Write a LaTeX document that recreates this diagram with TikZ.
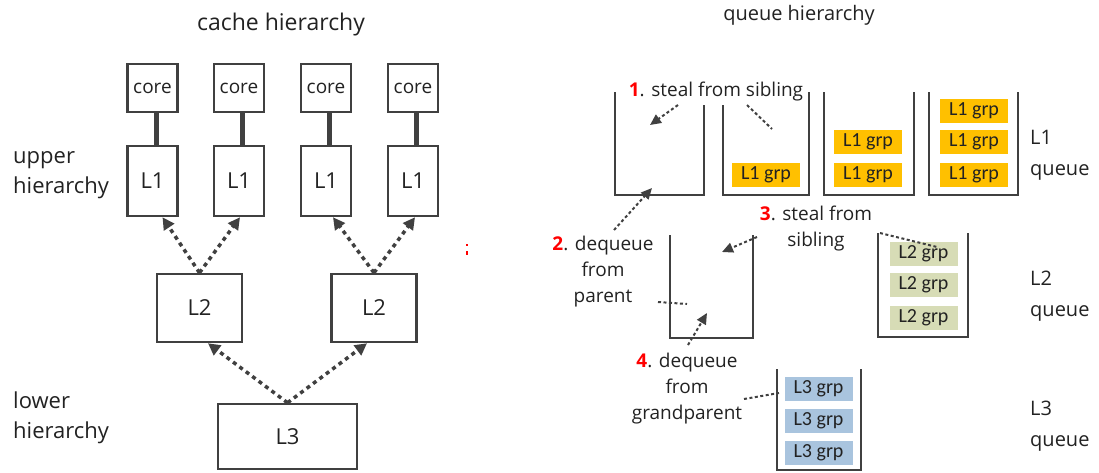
\documentclass[tikz,border=0pt]{standalone}
\usepackage{fontspec}
\setmainfont{Open Sans}
\newfontfamily\grpfont{Carlito}
\usetikzlibrary{arrows.meta}
\definecolor{ln}{HTML}{404040}
\definecolor{tx}{HTML}{222222}
\definecolor{orng}{HTML}{FFC000}
\definecolor{grn}{HTML}{D7DCB6}
\definecolor{blu}{HTML}{A9C4DE}
\definecolor{rd}{HTML}{FF0000}
\newcommand{\stepnum}[1]{{\color{rd}\bfseries #1}}
\begin{document}
\begin{tikzpicture}[x=1pt,y=-1pt,
  every node/.style={text=tx, inner sep=0pt},
  box/.style={draw=ln, line width=2.5pt, font=\fontsize{22}{26}\selectfont},
  corebox/.style={box, minimum width=50pt, minimum height=48pt, font=\fontsize{19}{24}\selectfont},
  lonebox/.style={box, minimum width=50pt, minimum height=70pt},
  ltwobox/.style={box, minimum width=85pt, minimum height=68pt},
  lthreebox/.style={box, minimum width=139pt, minimum height=65pt},
  bus/.style={draw=ln, line width=5pt},
  carrow/.style={draw=ln, line width=3.5pt, dash pattern=on 4pt off 4pt, -{Triangle[length=12pt,width=12pt]}},
  wall/.style={draw=ln, line width=2.5pt},
  grp/.style={minimum width=68pt, minimum height=24pt, font=\grpfont\fontsize{20}{24}\selectfont},
  lonegrp/.style={grp, fill=orng},
  ltwogrp/.style={grp, fill=grn},
  lthreegrp/.style={grp, fill=blu},
  rarrow/.style={draw=ln, line width=2pt, dash pattern=on 3pt off 2.5pt, -{Triangle[length=11pt,width=10pt]}},
  rline/.style={draw=ln, line width=2pt, dash pattern=on 3pt off 2.5pt},
  lbl/.style={font=\fontsize{19}{26}\selectfont, align=center},
  side/.style={font=\fontsize{22}{30}\selectfont, align=left, anchor=west},
  qlbl/.style={font=\fontsize{20}{31}\selectfont, align=left, anchor=west},
]
\useasboundingbox (0,0) rectangle (1099,472);

% ---------- cache hierarchy ----------
\node[font=\fontsize{23}{26}\selectfont] (ctitle) at (281,25) {cache hierarchy};

\foreach \i/\x in {a/152.5, b/239, c/326, d/413} {
  \node[corebox] (core\i) at (\x,88) {core};
  \node[lonebox] (lone\i) at (\x,181) {L1};
  \draw[bus] ([xshift=3.5pt]core\i.south) -- ([xshift=3.5pt]lone\i.north);
}
\node[ltwobox] (ltwoa) at (199.5,308) {L2};
\node[ltwobox] (ltwob) at (374,308) {L2};
\node[lthreebox] (lthree) at (287.5,436.5) {L3};

\draw[carrow] (ltwoa.north) -- ([xshift=10pt]lonea.south);
\draw[carrow] (ltwoa.north) -- ([xshift=1pt]loneb.south);
\draw[carrow] (ltwob.north) -- ([xshift=7pt]lonec.south);
\draw[carrow] (ltwob.north) -- ([xshift=2pt]loned.south);
\draw[carrow] (lthree.north) -- ([xshift=8.5pt]ltwoa.south);
\draw[carrow] (lthree.north) -- ([xshift=-7pt]ltwob.south);

\node[side] (upper) at (13,175) {upper\\hierarchy};
\node[side] (lower) at (13,418) {lower\\hierarchy};

\fill[rd] (465.5,243.5) rectangle (467.5,246);
\fill[rd] (465.5,251) rectangle (468,255);

% ---------- queue hierarchy ----------
\node[font=\fontsize{20}{24}\selectfont] (qtitle) at (799,15) {queue hierarchy};

% L1 queues
\draw[wall] (615,92) |- (704,195) -- (704,105);
\draw[wall] (723,105) |- (809,195) -- (809,92);
\draw[wall] (824,92) |- (914,195) -- (914,92);
\draw[wall] (929,92) |- (1018,195) -- (1018,92);

\node[lonegrp] (gb1) at (766,174.5) {L1 grp};
\node[lonegrp] (gc1) at (868,142) {L1 grp};
\node[lonegrp] (gc2) at (868,174.5) {L1 grp};
\node[lonegrp] (gd1) at (974,111) {L1 grp};
\node[lonegrp] (gd2) at (974,142) {L1 grp};
\node[lonegrp] (gd3) at (974,174.5) {L1 grp};

% L2 queues
\draw[wall] (670,235) |- (753,338) -- (753,235);
\draw[wall] (878,233) |- (968,337) -- (968,233);
\node[ltwogrp] (ge1) at (923.5,253.5) {L2 grp};
\node[ltwogrp] (ge2) at (923.5,285) {L2 grp};
\node[ltwogrp] (ge3) at (923.5,317.5) {L2 grp};

% L3 queue
\draw[wall] (777,369) |- (861,470) -- (861,369);
\node[lthreegrp] (gf1) at (818.5,389) {L3 grp};
\node[lthreegrp] (gf2) at (818.5,420.5) {L3 grp};
\node[lthreegrp] (gf3) at (818.5,452.5) {L3 grp};

% labels
\node[lbl] (s1) at (716,92) {\stepnum{1}. steal from sibling};
\node[lbl] (s2) at (603,272) {\stepnum{2}. dequeue\\from\\parent};
\node[lbl] (s3) at (816,228.5) {\stepnum{3}. steal from\\sibling};
\node[lbl] (s4) at (687,389) {\stepnum{4}. dequeue\\from\\grandparent};

\node[qlbl] (qa) at (1030,155) {L1\\queue};
\node[qlbl] (qb) at (1030,296) {L2\\queue};
\node[qlbl] (qc) at (1030,426) {L3\\queue};

% connectors
\coordinate (a1s) at (678,105); \coordinate (a1e) at (650,125);
\coordinate (b1s) at (747,105); \coordinate (b1e) at (772,129);
\coordinate (a2s) at (614,230); \coordinate (a2e) at (652,188);
\coordinate (b2s) at (658,302); \coordinate (b2e) at (687,304);
\coordinate (a3s) at (757,237); \coordinate (a3e) at (722,252);
\coordinate (b3s) at (880,233); \coordinate (b3e) at (937,247);
\coordinate (a4s) at (688,345); \coordinate (a4e) at (707,313);
\coordinate (b4s) at (744,399); \coordinate (b4e) at (779,393);

\draw[rarrow] (a1s) -- (a1e);
\draw[rline] (b1s) -- (b1e);
\draw[rarrow] (a2s) -- (a2e);
\draw[rline] (b2s) -- (b2e);
\draw[rarrow] (a3s) -- (a3e);
\draw[rline] (b3s) -- (b3e);
\draw[rarrow] (a4s) -- (a4e);
\draw[rline] (b4s) -- (b4e);
\end{tikzpicture}
\end{document}
